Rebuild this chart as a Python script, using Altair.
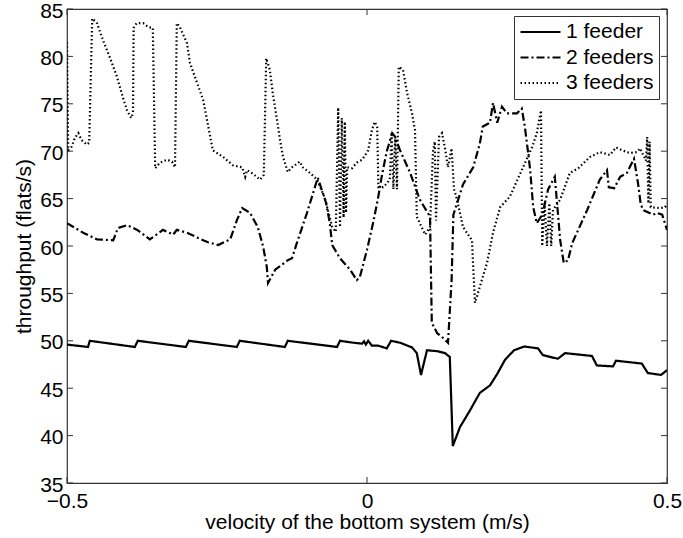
import altair as alt
import pandas as pd

# ---- data ----
series = ["1 feeder", "2 feeders", "3 feeders"]

x1 = [-0.5, -0.465, -0.462, -0.387, -0.382, -0.302, -0.297, -0.217, -0.212, -0.137,
      -0.132, -0.05, -0.045, -0.023, -0.008, -0.005, -0.002, 0.002, 0.008, 0.018,
      0.033, 0.04, 0.055, 0.075, 0.083, 0.09, 0.1, 0.118, 0.13, 0.138,
      0.143, 0.155, 0.172, 0.188, 0.205, 0.217, 0.23, 0.245, 0.262, 0.285,
      0.293, 0.318, 0.33, 0.375, 0.383, 0.41, 0.415, 0.458, 0.468, 0.49, 0.5]
y1 = [49.6, 49.35, 50.0, 49.35, 50.0, 49.35, 50.0, 49.35, 50.0, 49.35,
      50.0, 49.35, 50.0, 49.8, 49.7, 49.95, 49.6, 50.0, 49.5, 49.5,
      49.2, 50.0, 49.8, 49.3, 48.7, 46.4, 49.0, 48.9, 48.7, 48.3,
      38.9, 40.9, 42.7, 44.5, 45.3, 46.5, 48.0, 49.0, 49.4, 49.2,
      48.5, 48.1, 48.7, 48.4, 47.4, 47.3, 47.9, 47.6, 46.6, 46.4, 46.9]

x2 = [-0.5, -0.473, -0.45, -0.423, -0.415, -0.4, -0.383, -0.362, -0.34, -0.323,
      -0.317, -0.3, -0.273, -0.265, -0.248, -0.228, -0.217, -0.208, -0.195, -0.182,
      -0.173, -0.167, -0.165, -0.153, -0.132, -0.125, -0.117, -0.1, -0.082, -0.068,
      -0.062, -0.058, -0.045, -0.028, -0.017, -0.012, 0.0, 0.01, 0.018, 0.025,
      0.033, 0.042, 0.047, 0.055, 0.06, 0.072, 0.088, 0.105, 0.108, 0.117,
      0.127, 0.135, 0.141, 0.144, 0.152, 0.16, 0.177, 0.188, 0.193, 0.205,
      0.21, 0.217, 0.225, 0.233, 0.25, 0.258, 0.263, 0.268, 0.272, 0.277,
      0.283, 0.292, 0.302, 0.313, 0.322, 0.328, 0.335, 0.342, 0.367, 0.388,
      0.4, 0.403, 0.412, 0.422, 0.433, 0.445, 0.452, 0.456, 0.46, 0.477,
      0.483, 0.492, 0.5]
y2 = [62.4, 61.4, 60.7, 60.6, 61.9, 62.2, 61.7, 60.7, 61.7, 61.2,
      61.7, 61.4, 60.6, 60.4, 60.1, 60.7, 62.7, 64.0, 63.5, 62.0,
      59.9, 57.8, 56.1, 57.5, 58.5, 58.7, 60.3, 63.5, 67.2, 64.5,
      62.4, 60.1, 58.7, 57.5, 56.4, 56.7, 59.6, 62.4, 64.9, 67.5,
      70.0, 71.9, 71.5, 70.1, 69.4, 67.7, 64.9, 63.1, 51.9, 50.8,
      50.3, 49.8, 56.4, 63.3, 64.9, 66.5, 68.3, 70.8, 72.6, 73.0,
      75.1, 73.0, 74.7, 74.0, 74.0, 74.5, 72.6, 70.1, 68.0, 64.1,
      62.4, 63.3, 66.0, 67.3, 60.6, 58.2, 58.5, 60.3, 63.8, 67.0,
      68.0, 66.2, 66.1, 67.3, 67.7, 69.2, 66.5, 64.5, 63.8, 63.3,
      63.5, 63.3, 61.7]

x3 = [-0.5, -0.498, -0.492, -0.487, -0.481, -0.476, -0.467, -0.463, -0.458, -0.45,
      -0.44, -0.428, -0.417, -0.407, -0.4, -0.393, -0.39, -0.389, -0.384, -0.373,
      -0.365, -0.357, -0.353, -0.345, -0.333, -0.325, -0.32, -0.317, -0.312, -0.3,
      -0.295, -0.273, -0.257, -0.24, -0.223, -0.208, -0.203, -0.2, -0.192, -0.178,
      -0.172, -0.168, -0.162, -0.157, -0.15, -0.145, -0.14, -0.132, -0.125, -0.112,
      -0.107, -0.095, -0.083, -0.07, -0.058, -0.052, -0.048, -0.045, -0.042, -0.039,
      -0.037, -0.035, -0.033, -0.025, -0.017, -0.008, 0.002, 0.008, 0.013, 0.017,
      0.019, 0.027, 0.033, 0.038, 0.041, 0.044, 0.047, 0.05, 0.053, 0.06,
      0.067, 0.075, 0.08, 0.083, 0.088, 0.097, 0.105, 0.11, 0.113, 0.115,
      0.12, 0.125, 0.13, 0.135, 0.141, 0.145, 0.15, 0.16, 0.175, 0.177,
      0.18, 0.188, 0.2, 0.21, 0.222, 0.238, 0.258, 0.275, 0.283, 0.29,
      0.292, 0.296, 0.3, 0.304, 0.307, 0.31, 0.322, 0.338, 0.352, 0.372,
      0.388, 0.405, 0.415, 0.425, 0.438, 0.45, 0.455, 0.465, 0.467, 0.469,
      0.471, 0.473, 0.488, 0.497, 0.5]
y3 = [81.5, 70.1, 70.5, 71.4, 71.9, 71.2, 70.7, 70.9, 84.0, 83.5,
      81.7, 79.8, 77.9, 75.7, 74.3, 73.5, 74.0, 83.0, 83.5, 83.5,
      83.1, 83.0, 68.2, 68.8, 69.1, 68.9, 68.3, 83.5, 83.1, 81.4,
      79.3, 75.4, 70.1, 69.4, 68.5, 68.3, 67.3, 68.0, 67.7, 67.0,
      67.5, 79.8, 78.6, 76.1, 73.3, 71.2, 69.4, 67.8, 68.3, 68.9,
      68.3, 67.7, 67.0, 65.0, 62.0, 61.5, 74.6, 62.0, 73.5, 63.0,
      73.1, 63.5, 68.3, 68.2, 68.8, 69.1, 70.1, 72.2, 73.1, 72.5,
      66.2, 66.2, 66.6, 67.0, 72.0, 66.0, 71.5, 66.0, 78.9, 78.6,
      76.1, 74.0, 72.2, 63.1, 62.4, 61.2, 62.0, 70.0, 71.0, 62.7,
      71.5, 71.9, 70.3, 68.3, 70.3, 66.0, 64.9, 62.0, 60.6, 57.8,
      54.0, 55.7, 58.2, 61.4, 64.1, 65.2, 68.0, 70.4, 71.9, 74.3,
      60.0, 64.5, 60.0, 64.5, 60.0, 63.8, 64.9, 67.7, 68.2, 69.4,
      69.9, 69.6, 70.4, 70.1, 69.8, 69.9, 70.3, 69.0, 71.5, 64.5,
      71.0, 64.1, 64.0, 64.1, 64.5]

x_ticks = [-0.5, 0, 0.5]
y_ticks = [35, 40, 45, 50, 55, 60, 65, 70, 75, 80, 85]

rows = []
for name, xs_, ys_ in zip(series, [x1, x2, x3], [y1, y2, y3]):
    assert len(xs_) == len(ys_), name
    for i, (a, b) in enumerate(zip(xs_, ys_)):
        rows.append({"series": name, "v": a, "t": b, "i": i})
df = pd.DataFrame(rows)

W, H = 600, 474
FONT = "Liberation Sans"
xscale = alt.Scale(domain=[-0.5, 0.5], nice=False, zero=False)
yscale = alt.Scale(domain=[35, 85], nice=False, zero=False)
xaxis = alt.Axis(values=x_ticks, format="~g", labelFlush=False,
                 title="velocity of the bottom system (m/s)",
                 labelPadding=7, titleX=300, titleY=45,
                 titleBaseline="alphabetic", titleAnchor="middle")
yaxis = alt.Axis(values=y_ticks, format="~g", labelFlush=False, labelOffset=2,
                 title="throughput (flats/s)",
                 labelPadding=4, titleX=-37, titleY=237, titleAngle=-90,
                 titleBaseline="alphabetic", titleAnchor="middle")
X = alt.X("v:Q", scale=xscale, axis=xaxis, title="velocity of the bottom system (m/s)")
Y = alt.Y("t:Q", scale=yscale, axis=yaxis, title="throughput (flats/s)")

lines = alt.Chart(df).mark_line(color="black", clip=True).encode(
    x=X, y=Y,
    strokeDash=alt.StrokeDash(
        "series:N",
        scale=alt.Scale(domain=series, range=[[1, 0], [8, 3, 2, 3], [1.5, 2.5]]),
        legend=alt.Legend(title=None, orient="none", legendX=447, legendY=7,
                          symbolType="stroke", symbolSize=1600, symbolStrokeWidth=2,
                          symbolStrokeColor="black", labelFontSize=21, labelFont=FONT,
                          labelColor="black", labelOffset=4, padding=5, rowPadding=3.5,
                          clipHeight=22,
                          strokeColor="#333", fillColor="white", cornerRadius=0)),
    strokeWidth=alt.StrokeWidth("series:N",
                                scale=alt.Scale(domain=series, range=[2.2, 2.2, 1.6]),
                                legend=None),
    order="i:Q",
)

yt = pd.DataFrame({"t": y_ticks})
xt = pd.DataFrame({"v": x_ticks})
tick_col = "#333"
left_ticks = alt.Chart(yt).mark_rule(color=tick_col).encode(
    y=Y, x=alt.value(0), x2=alt.value(6))
right_ticks = alt.Chart(yt).mark_rule(color=tick_col).encode(
    y=Y, x=alt.value(W - 6), x2=alt.value(W))
bottom_ticks = alt.Chart(xt).mark_rule(color=tick_col).encode(
    x=X, y=alt.value(H - 6), y2=alt.value(H))
top_ticks = alt.Chart(xt).mark_rule(color=tick_col).encode(
    x=X, y=alt.value(0), y2=alt.value(6))

chart = alt.layer(lines, left_ticks, right_ticks, bottom_ticks, top_ticks).properties(
    width=W, height=H,
    autosize=alt.AutoSizeParams(type="none"),
    padding={"left": 67, "top": 9, "right": 16, "bottom": 55},
).configure_view(
    stroke="#333", strokeWidth=1.2
).configure_axis(
    domain=False, ticks=False, tickSize=0, grid=False,
    labelFont=FONT, titleFont=FONT, labelFontSize=21, titleFontSize=21,
    labelColor="black", titleColor="black", titleFontWeight="normal",
)

chart.save("out.html", embed_options={"renderer": "svg", "actions": False})
